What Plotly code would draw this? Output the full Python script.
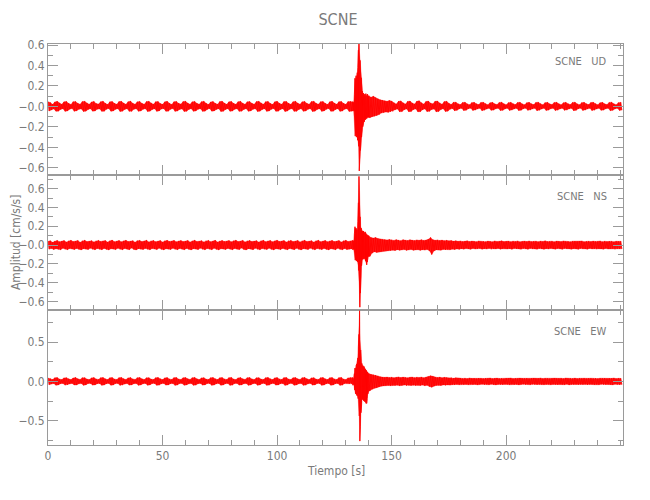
import plotly.graph_objects as go
from plotly.subplots import make_subplots

# sample times (s), one per second
times = list(range(0, 251))

# ---- UD component: positive peak and negative trough in each 1-s window (cm/s/s)
ud_hi = [
    .046,.038,.022,.044,.050,.033,.021,.045,.049,.030,
    .020,.046,.048,.031,.022,.047,.050,.034,.021,.044,
    .049,.029,.023,.046,.051,.032,.020,.045,.048,.030,
    .022,.047,.050,.033,.021,.046,.052,.031,.022,.045,
    .049,.030,.021,.047,.050,.034,.022,.046,.048,.029,
    .021,.045,.050,.032,.020,.046,.049,.031,.023,.047,
    .051,.033,.021,.045,.049,.030,.022,.046,.050,.032,
    .020,.044,.048,.031,.022,.047,.051,.033,.021,.045,
    .049,.030,.022,.046,.050,.032,.021,.045,.048,.031,
    .022,.047,.050,.034,.021,.046,.049,.030,.020,.045,
    .050,.032,.022,.047,.049,.031,.021,.046,.051,.033,
    .022,.045,.049,.030,.021,.047,.050,.032,.022,.046,
    .048,.031,.020,.045,.050,.033,.022,.046,.049,.030,
    .021,.047,.050,.045,.280,.400,.610,.330,.150,.120,
    .105,.090,.100,.085,.075,.065,.060,.055,.050,.058,
    .052,.036,.024,.050,.054,.035,.023,.049,.053,.034,
    .024,.050,.055,.036,.023,.048,.052,.033,.025,.050,
    .053,.034,.022,.047,.050,.030,.020,.040,.042,.026,
    .018,.038,.041,.025,.017,.037,.040,.026,.018,.039,
    .041,.027,.017,.036,.040,.025,.018,.038,.042,.026,
    .017,.037,.040,.027,.018,.038,.041,.025,.017,.036,
    .040,.026,.018,.039,.042,.027,.017,.037,.040,.025,
    .018,.038,.041,.026,.017,.036,.040,.027,.018,.039,
    .042,.025,.017,.037,.040,.026,.018,.038,.041,.027,
    .017,.036,.040,.025,.018,.039,.042,.026,.017,.037,
    .040,
]
ud_lo = [
    -.045,-.032,-.024,-.047,-.046,-.029,-.023,-.048,-.044,-.027,
    -.021,-.047,-.043,-.028,-.024,-.049,-.046,-.030,-.022,-.046,
    -.045,-.027,-.024,-.048,-.047,-.028,-.021,-.047,-.044,-.028,
    -.023,-.049,-.046,-.029,-.022,-.048,-.048,-.028,-.023,-.047,
    -.045,-.028,-.022,-.049,-.046,-.030,-.023,-.048,-.044,-.026,
    -.022,-.047,-.046,-.028,-.021,-.048,-.045,-.029,-.024,-.049,
    -.047,-.029,-.022,-.047,-.045,-.028,-.023,-.048,-.046,-.029,
    -.021,-.046,-.044,-.029,-.023,-.049,-.047,-.030,-.022,-.047,
    -.045,-.028,-.023,-.048,-.046,-.029,-.022,-.047,-.044,-.028,
    -.023,-.049,-.046,-.030,-.022,-.048,-.045,-.028,-.021,-.047,
    -.046,-.029,-.023,-.049,-.045,-.028,-.022,-.048,-.047,-.030,
    -.023,-.047,-.045,-.028,-.022,-.049,-.046,-.029,-.023,-.048,
    -.044,-.028,-.021,-.047,-.046,-.030,-.023,-.048,-.045,-.027,
    -.022,-.049,-.046,-.048,-.290,-.450,-.630,-.330,-.190,-.120,
    -.110,-.100,-.095,-.090,-.080,-.065,-.060,-.055,-.058,-.052,
    -.048,-.033,-.025,-.052,-.050,-.032,-.024,-.051,-.049,-.031,
    -.025,-.052,-.051,-.033,-.024,-.050,-.048,-.030,-.026,-.052,
    -.049,-.031,-.023,-.049,-.046,-.028,-.021,-.042,-.038,-.024,
    -.019,-.040,-.037,-.023,-.018,-.039,-.036,-.024,-.019,-.041,
    -.037,-.025,-.018,-.038,-.036,-.023,-.019,-.040,-.038,-.024,
    -.018,-.039,-.036,-.025,-.019,-.040,-.037,-.023,-.018,-.038,
    -.036,-.024,-.019,-.041,-.038,-.025,-.018,-.039,-.036,-.023,
    -.019,-.040,-.037,-.024,-.018,-.038,-.036,-.025,-.019,-.041,
    -.038,-.023,-.018,-.039,-.036,-.024,-.019,-.040,-.037,-.025,
    -.018,-.038,-.036,-.023,-.019,-.041,-.038,-.024,-.018,-.039,
    -.036,
]

# ---- NS component
ns_hi = [
    .040,.046,.030,.044,.050,.036,.042,.048,.033,.045,
    .051,.038,.043,.049,.031,.046,.052,.037,.041,.047,
    .034,.045,.050,.039,.044,.048,.032,.046,.053,.036,
    .042,.049,.035,.045,.051,.038,.043,.047,.031,.046,
    .050,.037,.044,.052,.034,.045,.049,.036,.041,.048,
    .033,.046,.051,.039,.043,.050,.035,.044,.048,.037,
    .042,.049,.032,.045,.052,.038,.041,.047,.034,.046,
    .050,.036,.043,.051,.033,.044,.049,.039,.042,.048,
    .035,.046,.052,.037,.041,.050,.034,.045,.049,.038,
    .043,.047,.032,.046,.051,.036,.044,.049,.035,.045,
    .052,.039,.042,.048,.033,.046,.050,.037,.041,.049,
    .034,.045,.051,.038,.043,.047,.032,.046,.052,.036,
    .042,.049,.035,.044,.050,.037,.041,.048,.033,.046,
    .051,.038,.044,.050,.200,.220,.730,.160,.140,.120,
    .100,.080,.075,.080,.070,.065,.060,.058,.055,.060,
    .056,.050,.058,.054,.047,.057,.052,.049,.056,.053,
    .048,.055,.051,.057,.050,.054,.062,.080,.058,.052,
    .055,.049,.053,.047,.051,.045,.048,.042,.046,.040,
    .044,.038,.042,.045,.037,.043,.040,.036,.044,.039,
    .042,.036,.043,.040,.035,.044,.038,.041,.045,.037,
    .041,.043,.036,.042,.039,.044,.035,.040,.043,.038,
    .044,.037,.041,.042,.036,.043,.039,.045,.038,.040,
    .042,.035,.043,.040,.037,.044,.039,.041,.036,.042,
    .043,.038,.040,.044,.036,.041,.042,.037,.043,.039,
    .040,.044,.036,.042,.038,.043,.041,.035,.042,.040,
    .041,
]
ns_lo = [
    -.043,-.035,-.047,-.039,-.045,-.050,-.034,-.044,-.049,-.037,
    -.042,-.048,-.036,-.046,-.051,-.038,-.043,-.047,-.033,-.045,
    -.050,-.037,-.044,-.049,-.035,-.046,-.052,-.039,-.042,-.048,
    -.034,-.045,-.050,-.036,-.043,-.049,-.032,-.046,-.051,-.038,
    -.044,-.047,-.035,-.045,-.050,-.037,-.042,-.048,-.033,-.046,
    -.051,-.039,-.043,-.047,-.034,-.045,-.049,-.036,-.044,-.050,
    -.035,-.046,-.051,-.038,-.042,-.048,-.033,-.045,-.050,-.037,
    -.043,-.049,-.034,-.046,-.052,-.039,-.041,-.047,-.035,-.044,
    -.050,-.036,-.043,-.048,-.032,-.046,-.051,-.038,-.042,-.049,
    -.034,-.045,-.050,-.037,-.044,-.047,-.033,-.046,-.052,-.039,
    -.042,-.048,-.035,-.045,-.050,-.036,-.043,-.049,-.034,-.046,
    -.051,-.038,-.042,-.047,-.033,-.045,-.050,-.037,-.044,-.048,
    -.035,-.046,-.051,-.039,-.042,-.049,-.034,-.045,-.050,-.037,
    -.048,-.043,-.040,-.049,-.160,-.200,-.660,-.160,-.140,-.210,
    -.120,-.085,-.072,-.078,-.070,-.066,-.062,-.058,-.056,-.058,
    -.054,-.058,-.049,-.055,-.052,-.048,-.056,-.051,-.047,-.055,
    -.052,-.049,-.056,-.050,-.053,-.047,-.060,-.100,-.062,-.051,
    -.049,-.054,-.046,-.052,-.047,-.050,-.043,-.047,-.041,-.045,
    -.039,-.043,-.037,-.041,-.044,-.036,-.042,-.040,-.037,-.043,
    -.038,-.042,-.036,-.044,-.039,-.041,-.035,-.043,-.040,-.037,
    -.042,-.038,-.044,-.036,-.041,-.039,-.043,-.037,-.040,-.044,
    -.036,-.042,-.039,-.043,-.037,-.041,-.044,-.038,-.042,-.036,
    -.041,-.043,-.037,-.040,-.044,-.036,-.042,-.039,-.043,-.038,
    -.040,-.044,-.037,-.042,-.039,-.043,-.036,-.041,-.040,-.043,
    -.038,-.041,-.043,-.036,-.042,-.040,-.037,-.044,-.039,-.041,
    -.040,
]

# ---- EW component
ew_hi = [
    .044,.036,.025,.046,.049,.031,.024,.045,.048,.033,
    .023,.044,.050,.034,.025,.047,.048,.030,.024,.045,
    .049,.032,.026,.047,.050,.033,.023,.046,.049,.031,
    .025,.048,.051,.035,.024,.045,.049,.032,.026,.047,
    .050,.033,.024,.046,.048,.030,.025,.047,.051,.034,
    .023,.045,.049,.032,.026,.048,.050,.031,.024,.046,
    .049,.034,.025,.047,.051,.033,.023,.045,.048,.030,
    .026,.047,.050,.034,.024,.046,.049,.032,.025,.048,
    .051,.031,.023,.045,.049,.033,.026,.047,.050,.032,
    .024,.046,.048,.030,.025,.047,.051,.034,.023,.045,
    .049,.032,.026,.048,.050,.031,.024,.046,.049,.033,
    .025,.047,.051,.034,.023,.045,.048,.030,.026,.047,
    .050,.033,.024,.046,.049,.032,.025,.048,.051,.031,
    .023,.045,.049,.046,.170,.440,.900,.230,.170,.120,
    .100,.090,.085,.080,.070,.060,.055,.052,.056,.050,
    .054,.047,.052,.057,.049,.055,.051,.046,.053,.056,
    .048,.054,.050,.056,.047,.055,.062,.072,.066,.053,
    .050,.055,.047,.052,.048,.044,.049,.041,.046,.040,
    .043,.038,.042,.036,.044,.039,.041,.035,.043,.040,
    .037,.042,.039,.044,.036,.041,.043,.038,.040,.035,
    .042,.039,.044,.037,.041,.036,.043,.040,.038,.042,
    .036,.041,.043,.038,.040,.044,.037,.042,.039,.035,
    .041,.043,.037,.040,.042,.036,.044,.039,.041,.038,
    .043,.037,.041,.039,.044,.036,.040,.042,.038,.041,
    .036,.042,.040,.043,.037,.041,.039,.044,.036,.040,
    .039,
]
ew_lo = [
    -.042,-.030,-.027,-.048,-.045,-.029,-.026,-.047,-.044,-.030,
    -.025,-.046,-.046,-.031,-.027,-.049,-.044,-.028,-.026,-.047,
    -.045,-.029,-.028,-.049,-.046,-.030,-.025,-.048,-.045,-.028,
    -.027,-.050,-.047,-.032,-.026,-.047,-.045,-.029,-.028,-.049,
    -.046,-.030,-.026,-.048,-.044,-.027,-.027,-.049,-.047,-.031,
    -.025,-.047,-.045,-.029,-.028,-.050,-.046,-.028,-.026,-.048,
    -.045,-.031,-.027,-.049,-.047,-.030,-.025,-.047,-.044,-.027,
    -.028,-.049,-.046,-.031,-.026,-.048,-.045,-.029,-.027,-.050,
    -.047,-.028,-.025,-.047,-.045,-.030,-.028,-.049,-.046,-.029,
    -.026,-.048,-.044,-.027,-.027,-.049,-.047,-.031,-.025,-.047,
    -.045,-.029,-.028,-.050,-.046,-.028,-.026,-.048,-.045,-.030,
    -.027,-.049,-.047,-.031,-.025,-.047,-.044,-.027,-.028,-.049,
    -.046,-.030,-.026,-.048,-.045,-.029,-.027,-.050,-.047,-.028,
    -.025,-.030,-.028,-.048,-.190,-.250,-.760,-.230,-.200,-.280,
    -.120,-.100,-.080,-.080,-.070,-.060,-.056,-.054,-.052,-.055,
    -.050,-.053,-.048,-.055,-.051,-.047,-.054,-.049,-.052,-.048,
    -.054,-.049,-.053,-.047,-.055,-.050,-.065,-.074,-.060,-.051,
    -.048,-.052,-.046,-.050,-.044,-.047,-.042,-.045,-.039,-.043,
    -.037,-.042,-.039,-.043,-.036,-.041,-.038,-.044,-.040,-.037,
    -.042,-.039,-.043,-.036,-.041,-.044,-.038,-.040,-.043,-.037,
    -.039,-.043,-.037,-.042,-.038,-.044,-.040,-.036,-.042,-.039,
    -.043,-.037,-.041,-.044,-.038,-.040,-.042,-.039,-.037,-.043,
    -.038,-.041,-.043,-.037,-.040,-.042,-.036,-.044,-.039,-.041,
    -.040,-.043,-.038,-.041,-.037,-.044,-.039,-.040,-.042,-.038,
    -.043,-.037,-.040,-.042,-.038,-.041,-.044,-.036,-.040,-.042,
    -.038,
]

# ---- finer reading of the main arrival, 133.00-139.75 s in 0.25-s windows
ev_times = [133 + 0.25 * k for k in range(28)]
ud_ev_hi = [
    .046,.030,.045,.120, .275,.250,.300,.270, .330,.380,.550,.610,
    .520,.450,.390,.280, .190,.150,.110,.130, .096,.120,.100,.125,
    .110,.100,.120,.095,
]
ud_ev_lo = [
    -.044,-.032,-.047,-.150, -.290,-.260,-.300,-.280, -.330,-.360,-.390,-.630,
    -.490,-.430,-.360,-.300, -.230,-.200,-.180,-.150, -.150,-.120,-.130,-.110,
    -.120,-.100,-.110,-.105,
]
ns_ev_hi = [
    .050,.040,.048,.120, .195,.170,.180,.165, .160,.250,.450,.730,
    .580,.300,.200,.180, .160,.150,.140,.150, .140,.130,.140,.120,
    .120,.110,.105,.100,
]
ns_ev_lo = [
    -.049,-.038,-.046,-.120, -.160,-.150,-.170,-.160, -.180,-.220,-.270,-.440,
    -.660,-.510,-.340,-.220, -.160,-.150,-.140,-.150, -.140,-.150,-.170,-.190,
    -.210,-.180,-.140,-.120,
]
ew_ev_hi = [
    .049,.035,.046,.100, .170,.160,.200,.220, .250,.300,.440,.600,
    .900,.530,.400,.300, .230,.210,.200,.190, .190,.170,.160,.150,
    .140,.130,.120,.110,
]
ew_ev_lo = [
    -.048,-.034,-.047,-.110, -.150,-.160,-.170,-.180, -.190,-.220,-.270,-.440,
    -.760,-.570,-.400,-.300, -.230,-.230,-.240,-.250, -.250,-.260,-.270,-.280,
    -.280,-.220,-.160,-.130,
]

components = ["UD", "NS", "EW"]
station = "SCNE"

# tick labels
ud_ticks = [0.6, 0.4, 0.2, 0.0, -0.2, -0.4, -0.6]
ud_ticktext = ["0.6", "0.4", "0.2", "\u22120.0", "\u22120.2", "\u22120.4", "\u22120.6"]
ew_ticks = [0.5, 0.0, -0.5]
ew_ticktext = ["0.5", "0.0", "\u22120.5"]
x_ticks = [0, 50, 100, 150, 200]

FONT = "Liberation Sans Narrow, DejaVu Sans Condensed, Roboto Condensed, Arial Narrow, sans-serif"
AX = "#9a9a9a"
TXT = "#7a7a7a"
RED = "#ff0000"


def merged(hi, lo, ev_hi, ev_lo):
    t0, t1 = ev_times[0], ev_times[-1] + 0.25
    rows = [(t, 1.0, h, l) for t, h, l in zip(times, hi, lo) if not (t0 <= t < t1)]
    rows += [(t, 0.25, h, l) for t, h, l in zip(ev_times, ev_hi, ev_lo)]
    rows.sort()
    return rows


def zigzag(rows):
    xs, ys = [], []
    for t, dt, h, l in rows:
        xs += [t, t + dt / 2]
        ys += [h, l]
    return xs, ys


def envelope(rows):
    xs = [r[0] for r in rows] + [r[0] + r[1] / 2 for r in reversed(rows)]
    ys = [r[2] for r in rows] + [r[3] for r in reversed(rows)]
    return xs, ys


fig = make_subplots(rows=3, cols=1, shared_xaxes=True, vertical_spacing=0)

series = [(ud_hi, ud_lo, ud_ev_hi, ud_ev_lo),
          (ns_hi, ns_lo, ns_ev_hi, ns_ev_lo),
          (ew_hi, ew_lo, ew_ev_hi, ew_ev_lo)]
for i, s in enumerate(series):
    rows = merged(*s)
    ex, ey = envelope(rows)
    fig.add_trace(go.Scatter(x=ex, y=ey, mode="lines", fill="toself",
                             fillcolor="rgba(255,0,0,0.9)",
                             line=dict(color="rgba(255,0,0,0.5)", width=0.5),
                             hoverinfo="skip", showlegend=False),
                  row=i + 1, col=1)
    xs, ys = zigzag(rows)
    fig.add_trace(go.Scatter(x=xs, y=ys, mode="lines",
                             line=dict(color=RED, width=0.8),
                             hoverinfo="skip", showlegend=False),
                  row=i + 1, col=1)

H = 401.0
domains = [[270 / H, 1.0], [135 / H, 270 / H], [0.0, 135 / H]]
yranges = [[-0.67, 0.61], [-0.69, 0.745], [-0.81, 0.91]]
label_drop = [17, 21, 21]

common_axis = dict(showline=True, linecolor=AX, linewidth=1, mirror="ticks",
                   ticks="inside", ticklen=10, tickcolor=AX, tickwidth=1,
                   showgrid=False, zeroline=False, automargin=False,
                   tickfont=dict(family=FONT, size=12, color=TXT))

for i in range(3):
    n = "" if i == 0 else str(i + 1)
    fig.layout["xaxis" + n].update(
        **common_axis, range=[0, 251], tickmode="array", tickvals=x_ticks,
        showticklabels=(i == 2),
        minor=dict(ticks="inside", ticklen=5, tickcolor=AX, tickmode="linear",
                   tick0=0, dtick=10))
    if i < 2:
        yt = dict(tickmode="array", tickvals=ud_ticks, ticktext=ud_ticktext,
                  minor=dict(ticks="inside", ticklen=5, tickcolor=AX,
                             tickmode="linear", tick0=0, dtick=0.1))
    else:
        yt = dict(tickmode="array", tickvals=ew_ticks, ticktext=ew_ticktext,
                  minor=dict(ticks="inside", ticklen=5, tickcolor=AX,
                             tickmode="linear", tick0=0, dtick=0.25))
    fig.layout["yaxis" + n].update(**common_axis, range=yranges[i],
                                   domain=domains[i], **yt)
    fig.add_annotation(text=station + "\u00a0\u00a0 " + components[i],
                       xref="x" + n + " domain", yref="y" + n + " domain",
                       x=0.976, y=1 - label_drop[i] / (131 if i == 0 else 135),
                       xanchor="right", yanchor="middle", showarrow=False,
                       font=dict(family=FONT, size=11, color=TXT))

fig.add_annotation(text="Tiempo [s]", xref="paper", yref="paper",
                   x=0.5, y=-26 / H, xanchor="center", yanchor="middle",
                   showarrow=False, font=dict(family=FONT, size=12, color=TXT))
fig.add_annotation(text="Amplitud [cm/s/s]", xref="paper", yref="paper",
                   x=-32 / 575, y=0.506, xanchor="center", yanchor="middle",
                   textangle=-90, showarrow=False,
                   font=dict(family=FONT, size=12, color=TXT))

fig.update_layout(
    width=650, height=500,
    margin=dict(l=40, r=35, t=36, b=63, autoexpand=False),
    paper_bgcolor="white", plot_bgcolor="white",
    title=dict(text=station, x=330 / 650, xanchor="center", y=1 - 11 / 500,
               yanchor="middle", yref="container",
               font=dict(family=FONT, size=16, color=TXT)),
    showlegend=False,
)

fig.write_html("out.html")
